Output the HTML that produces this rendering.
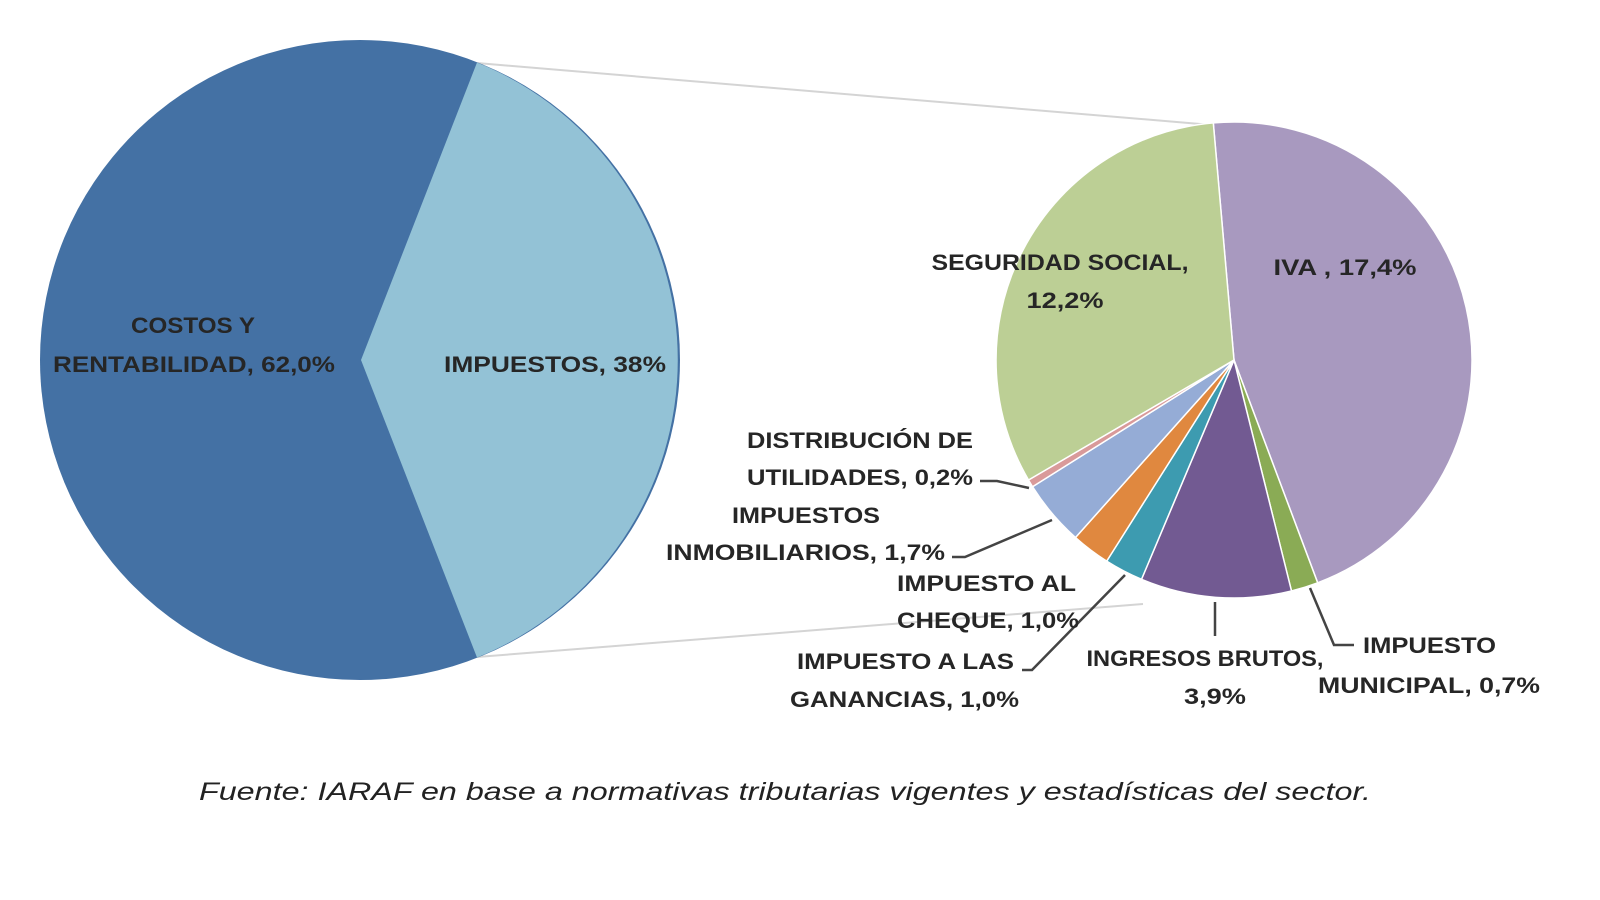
<!DOCTYPE html>
<html><head><meta charset="utf-8"><style>
html,body{margin:0;padding:0;background:#fff;width:1600px;height:900px;overflow:hidden}
svg text{font-family:"Liberation Sans",sans-serif;font-weight:bold;font-size:22px;fill:#262626}
</style></head><body>
<svg id="s" width="1600" height="900" viewBox="0 0 1600 900">
<line x1="477" y1="63" x2="1212" y2="125" stroke="#d4d4d4" stroke-width="2"/>
<line x1="477" y1="657" x2="1143" y2="604" stroke="#d4d4d4" stroke-width="2"/>
<circle cx="360" cy="360" r="320" fill="#4471a4"/>
<path d="M477,62.5 A320.8,320.8 0 0 1 477,657.5 L361,360 Z" fill="#93c2d6"/>
<g transform="translate(-13,0)">
<g id="rp"></g>
<g fill="none" stroke="#444" stroke-width="2.5">
<polyline points="993,481 1010,481 1042,488"/>
<polyline points="965,557 978,557 1065,520"/>
<polyline points="1035,670 1045,670 1138,575"/>
<polyline points="1228,602 1228,636"/>
<polyline points="1323,588 1347,645 1367,645"/>
</g>
<text x="1073" y="270" text-anchor="middle" textLength="257" lengthAdjust="spacingAndGlyphs">SEGURIDAD SOCIAL,</text>
<text x="1078" y="308" text-anchor="middle" textLength="77" lengthAdjust="spacingAndGlyphs">12,2%</text>
<text x="1358" y="275" text-anchor="middle" textLength="143" lengthAdjust="spacingAndGlyphs">IVA , 17,4%</text>
<text x="760" y="448" textLength="226" lengthAdjust="spacingAndGlyphs">DISTRIBUCIÓN  DE</text>
<text x="760" y="485" textLength="226" lengthAdjust="spacingAndGlyphs">UTILIDADES, 0,2%</text>
<text x="745" y="523" textLength="148" lengthAdjust="spacingAndGlyphs">IMPUESTOS</text>
<text x="679" y="560" textLength="279" lengthAdjust="spacingAndGlyphs">INMOBILIARIOS, 1,7%</text>
<text x="910" y="591" textLength="179" lengthAdjust="spacingAndGlyphs">IMPUESTO AL</text>
<text x="910" y="628" textLength="182" lengthAdjust="spacingAndGlyphs">CHEQUE, 1,0%</text>
<text x="810" y="669" textLength="217" lengthAdjust="spacingAndGlyphs">IMPUESTO A LAS</text>
<text x="803" y="707" textLength="229" lengthAdjust="spacingAndGlyphs">GANANCIAS, 1,0%</text>
<text x="1218" y="666" text-anchor="middle" textLength="237" lengthAdjust="spacingAndGlyphs">INGRESOS BRUTOS,</text>
<text x="1228" y="704" text-anchor="middle" textLength="62" lengthAdjust="spacingAndGlyphs">3,9%</text>
<text x="1376" y="653" textLength="133" lengthAdjust="spacingAndGlyphs">IMPUESTO</text>
<text x="1331" y="693" textLength="222" lengthAdjust="spacingAndGlyphs">MUNICIPAL, 0,7%</text>
</g>
<text x="193" y="333" text-anchor="middle" textLength="124" lengthAdjust="spacingAndGlyphs">COSTOS Y</text>
<text x="194" y="372" text-anchor="middle" textLength="282" lengthAdjust="spacingAndGlyphs">RENTABILIDAD, 62,0%</text>
<text x="555" y="372" text-anchor="middle" textLength="222" lengthAdjust="spacingAndGlyphs">IMPUESTOS, 38%</text>
<text x="199" y="800" style="font-weight:normal;font-style:italic;font-size:25px;fill:#222" textLength="1172" lengthAdjust="spacingAndGlyphs">Fuente: IARAF en base a normativas tributarias vigentes y estadísticas del sector.</text>
</svg>
<script>
(function(){
var cx=1247,cy=360,r=238,start=-5;
var d=[[17.4,"#a899bf"],[0.7,"#8aab55"],[3.9,"#725a92"],[1.0,"#3d9bb0"],[1.0,"#e0883f"],[1.7,"#95acd6"],[0.2,"#d99a9a"],[12.2,"#bccf95"]];
var tot=0;d.forEach(function(e){tot+=e[0];});
var g=document.getElementById("rp"),a=start,h="";
function pt(t){var rad=t*Math.PI/180;return [cx+r*Math.sin(rad),cy-r*Math.cos(rad)];}
d.forEach(function(e){var sw=e[0]/tot*360,p1=pt(a),p2=pt(a+sw);
h+='<path d="M'+cx+','+cy+' L'+p1[0].toFixed(1)+','+p1[1].toFixed(1)+' A'+r+','+r+' 0 '+(sw>180?1:0)+' 1 '+p2[0].toFixed(1)+','+p2[1].toFixed(1)+' Z" fill="'+e[1]+'" stroke="#fff" stroke-width="1.5"/>';a+=sw;});
g.innerHTML=h;
})();
</script>
</body></html>
